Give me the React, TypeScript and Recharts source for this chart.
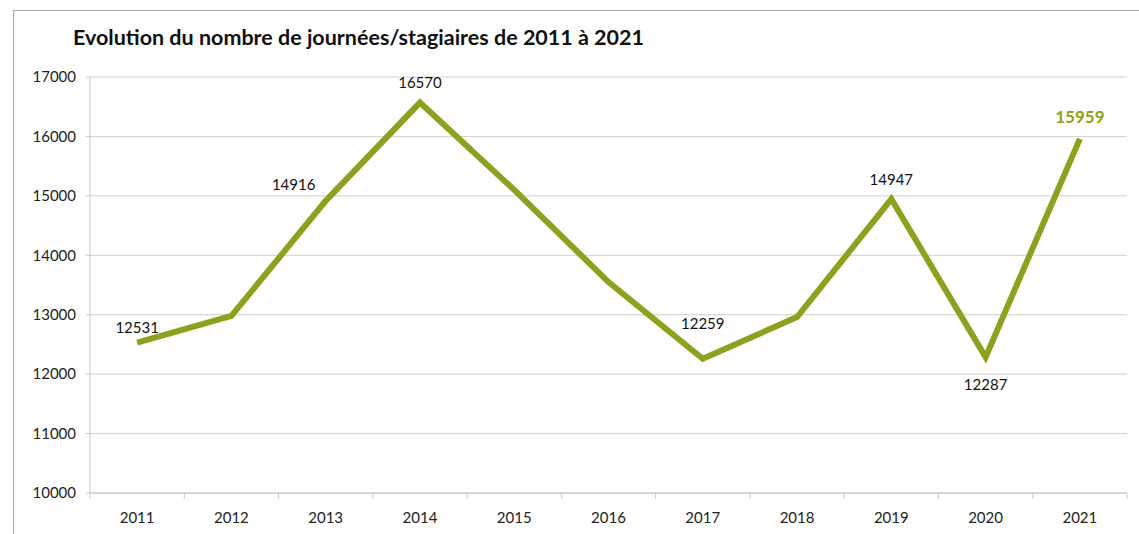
import { CartesianGrid, LabelList, Line, LineChart, XAxis, YAxis } from 'recharts';

const years = ['2011', '2012', '2013', '2014', '2015', '2016', '2017', '2018', '2019', '2020', '2021'];
const days = [12531, 12980, 14916, 16570, 15100, 13550, 12259, 12960, 14947, 12287, 15959];
const shownLabels = [true, false, true, true, false, false, true, false, true, true, true];
const yTicks = [10000, 11000, 12000, 13000, 14000, 15000, 16000, 17000];

const data = years.map((year, i) => ({ year, days: days[i], show: shownLabels[i] }));

const GREEN = '#8CA21F';
const FONT = 'Lato, "DejaVu Sans", sans-serif';
const W = 1139;
const H = 534;
const PLOT_LEFT = 90;
const PLOT_RIGHT = 12;
const STEP = (W - PLOT_LEFT - PLOT_RIGHT) / years.length;

// label offsets (dx, dy) relative to the point
const labelOffsets: Record<number, [number, number]> = {
  0: [0, -16],
  2: [-32, -17],
  3: [0, -21],
  6: [0, -36],
  8: [0, -20],
  9: [0, 27],
  10: [0, -22],
};

const PointLabel = (props: any) => {
  const { x, y, index, value } = props;
  if (!shownLabels[index]) return null;
  const [dx, dy] = labelOffsets[index] || [0, -18];
  const last = index === years.length - 1;
  return (
    <text
      x={x + dx}
      y={y + dy}
      textAnchor="middle"
      dominantBaseline="central"
      fontFamily={FONT}
      fontSize={last ? 17 : 15}
      fontWeight={last ? 700 : 400}
      fill={last ? GREEN : '#111'}
    >
      {value}
    </text>
  );
};

const YearTick = (props: any) => {
  const { x, y, payload, index } = props;
  const half = STEP / 2;
  return (
    <g>
      <line x1={x - half} x2={x - half} y1={y - 8} y2={y - 2} stroke="#c8c8c8" />
      {index === years.length - 1 && (
        <line x1={x + half} x2={x + half} y1={y - 8} y2={y - 2} stroke="#c8c8c8" />
      )}
      <text x={x} y={y + 16} textAnchor="middle" dominantBaseline="central" fontFamily={FONT} fontSize={15} fill="#222">
        {payload.value}
      </text>
    </g>
  );
};

export default function App() {
  return (
    <div style={{ position: 'absolute', left: 0, top: 0, width: W, height: H, background: '#fff', overflow: 'hidden' }}>
      <div
        style={{
          position: 'absolute',
          left: 13,
          top: 10,
          width: W,
          height: H,
          borderTop: '1px solid #a8a8a8',
          borderLeft: '1px solid #a8a8a8',
        }}
      />
      <div
        style={{
          position: 'absolute',
          left: 73,
          top: 24,
          fontFamily: FONT,
          fontWeight: 700,
          fontSize: 21.5,
          color: '#111',
          whiteSpace: 'nowrap',
        }}
      >
        Evolution du nombre de journées/stagiaires de 2011 à 2021
      </div>
      <div style={{ position: 'absolute', left: 0, top: 0 }}>
        <LineChart width={W} height={H} data={data} margin={{ top: 77, right: PLOT_RIGHT, bottom: 0, left: 0 }}>
          <CartesianGrid vertical={false} stroke="#cfcfcf" />
          <XAxis
            dataKey="year"
            height={41}
            axisLine={{ stroke: '#c8c8c8' }}
            tickLine={false}
            tick={<YearTick />}
            interval={0}
            padding={{ left: STEP / 2, right: STEP / 2 }}
          />
          <YAxis
            domain={[10000, 17000]}
            ticks={yTicks}
            width={PLOT_LEFT}
            axisLine={{ stroke: '#c8c8c8' }}
            tickLine={{ stroke: '#c8c8c8' }}
            tickSize={4}
            tickMargin={10}
            tick={{ fontFamily: FONT, fontSize: 15, fill: '#222' }}
          />
          <Line
            dataKey="days"
            stroke={GREEN}
            strokeWidth={6}
            dot={false}
            activeDot={false}
            isAnimationActive={false}
          >
            <LabelList dataKey="days" content={<PointLabel />} />
          </Line>
        </LineChart>
      </div>
    </div>
  );
}
